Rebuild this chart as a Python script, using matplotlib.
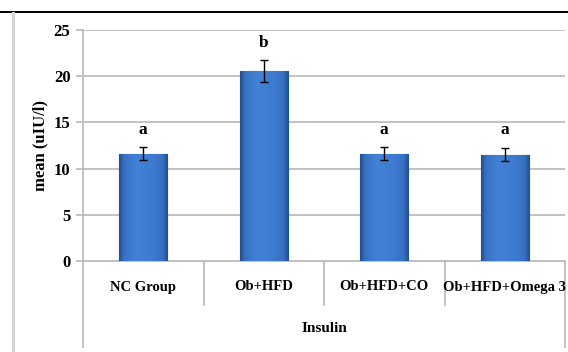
import numpy as np
import matplotlib
matplotlib.use("Agg")
import matplotlib.pyplot as plt
from matplotlib.lines import Line2D
from matplotlib.colors import LinearSegmentedColormap

groups = ["NC Group", "Ob+HFD", "Ob+HFD+CO", "Ob+HFD+Omega 3"]
means = [11.6, 20.6, 11.6, 11.5]
errors = [0.7, 1.2, 0.7, 0.7]
letters = ["a", "b", "a", "a"]
letter_y = [14.2, 23.6, 14.2, 14.2]
y_ticks = [0, 5, 10, 15, 20, 25]
axis_title = "Insulin"
y_title = "mean (uIU/l)"

plt.rcParams["font.family"] = ["Liberation Serif", "DejaVu Serif"]
plt.rcParams["font.weight"] = "bold"

W, H = 568, 352
fig = plt.figure(figsize=(W / 100, H / 100), dpi=100)
fig.patch.set_facecolor("white")

# frame decorations
fig.add_artist(Line2D([0, 1], [1 - 12 / H, 1 - 12 / H], color="black", lw=1.4,
                      transform=fig.transFigure))
fig.add_artist(Line2D([13 / W, 13 / W], [0, 1 - 13 / H], color="#d4d4d4", lw=2.2,
                      transform=fig.transFigure))

left, right = 83 / W, 565 / W
bottom, top = 1 - 261 / H, 1 - 30 / H
ax = fig.add_axes([left, bottom, right - left, top - bottom])

grid_c = "#bdbdbd"
ax.set_yticks(y_ticks)
ax.yaxis.grid(True, color=grid_c, lw=1.3)
ax.set_axisbelow(True)
for s in ["top", "right", "bottom"]:
    ax.spines[s].set_visible(False)
ax.spines["left"].set_color(grid_c)
ax.spines["left"].set_linewidth(1.3)
ax.tick_params(axis="y", length=5, color=grid_c, width=1.3, labelsize=12, pad=4)
ax.tick_params(axis="x", length=0, labelbottom=False)
ax.set_ylabel(y_title, fontsize=12, fontweight="bold", labelpad=4)

# bars with a horizontal shading gradient: flat body, darker sides
cmap = LinearSegmentedColormap.from_list(
    "barshade",
    [(0.0, "#23508f"), (0.1, "#3872c4"), (0.35, "#4282d6"),
     (0.7, "#3d7ad0"), (0.9, "#3670c2"), (1.0, "#22508e")])
grad = np.linspace(0, 1, 64).reshape(1, -1)
x = np.arange(len(groups))
bars = ax.bar(x, means, width=0.4, color="#3d7ad0", edgecolor="#244f88", lw=0.8,
              zorder=2)
for b in bars:
    x0, y0 = b.get_x(), b.get_y()
    im = ax.imshow(grad, cmap=cmap, aspect="auto", zorder=2.5,
                   extent=[x0, x0 + b.get_width(), y0, y0 + b.get_height()])
    im.set_clip_path(b)
ax.set_xlim(-0.5, len(groups) - 0.5)
ax.set_ylim(0, 25)

ax.errorbar(x, means, yerr=errors, fmt="none", ecolor="black", elinewidth=1,
            capsize=3, capthick=1, zorder=3)
for xi, lt, ly in zip(x, letters, letter_y):
    ax.text(xi, ly, lt, ha="center", va="center", fontsize=12.5, fontweight="bold")

# category axis below the plot
def ay(px):
    return (261 - px) / (261 - 30)

ax.add_line(Line2D([0, 1], [0, 0], transform=ax.transAxes, color=grid_c, lw=1.3,
                   clip_on=False))
for k in range(1, len(groups)):
    xf = k / len(groups)
    ax.add_line(Line2D([xf, xf], [0, ay(305)], transform=ax.transAxes,
                       color=grid_c, lw=1.3, clip_on=False))
for xf in (0, 1):
    ax.add_line(Line2D([xf, xf], [0, ay(347)], transform=ax.transAxes,
                       color=grid_c, lw=1.3, clip_on=False))
for k, g in enumerate(groups):
    ax.text((k + 0.5) / len(groups), ay(287), g, transform=ax.transAxes,
            ha="center", va="center", fontsize=10.5, fontweight="bold")
ax.text(0.5, ay(328), axis_title, transform=ax.transAxes, ha="center",
        va="center", fontsize=11, fontweight="bold")

fig.savefig("out.png", dpi=100)
